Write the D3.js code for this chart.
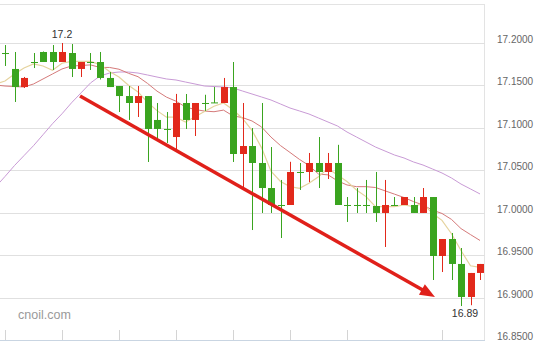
<!DOCTYPE html>
<html><head><meta charset="utf-8">
<script src="https://cdn.jsdelivr.net/npm/d3@7"></script>
<style>body{margin:0;background:#fff;overflow:hidden}</style>
</head><body><svg id="c" width="550" height="341"></svg>
<script>
// candle data (index 0..50)
const opens  = [17.1882,17.1694,17.1481,17.1776,17.1894,17.1894,17.1776,17.1882,17.1694,17.1776,
                17.1776,17.1588,17.1493,17.1375,17.1293,17.1375,17.1093,17.0987,17.0892,17.1293,
                17.1093,17.1293,17.1300,17.1293,17.1481,17.0692,17.0786,17.0586,17.0291,17.0091,
                17.0091,17.0480,17.0480,17.0586,17.0480,17.0586,17.0091,17.0091,17.0091,17.0079,
                16.9997,17.0091,17.0091,17.0091,16.9997,17.0185,16.9490,16.9690,16.9396,16.9007,16.9290];
const closes = [17.1882,17.1481,17.1588,17.1776,17.1776,17.1776,17.1894,17.1694,17.1776,17.1776,
                17.1588,17.1481,17.1375,17.1293,17.1375,17.0987,17.0987,17.0987,17.1293,17.1093,
                17.1293,17.1293,17.1300,17.1481,17.0692,17.0786,17.0586,17.0291,17.0091,17.0091,
                17.0480,17.0480,17.0586,17.0480,17.0586,17.0091,17.0091,17.0091,17.0091,16.9997,
                17.0091,17.0091,17.0185,16.9997,17.0185,16.9490,16.9690,16.9396,16.9007,16.9290,16.9396];
const highs  = [17.1976,17.1894,17.1600,17.1882,17.1900,17.1976,17.2000,17.1988,17.1776,17.1882,
                17.1894,17.1658,17.1493,17.1493,17.1493,17.1375,17.1293,17.1187,17.1400,17.1399,
                17.1293,17.1390,17.1481,17.1588,17.1776,17.1293,17.0998,17.1293,17.0774,17.0386,
                17.0600,17.0586,17.0704,17.0892,17.0704,17.0800,17.0185,17.0291,17.0386,17.0480,
                17.0386,17.0185,17.0185,17.0185,17.0291,17.0185,16.9690,16.9761,16.9584,16.9290,16.9396];
const lows   = [17.1729,17.1305,17.1470,17.1705,17.1776,17.1682,17.1776,17.1599,17.1599,17.1682,
                17.1570,17.1481,17.1187,17.1093,17.1128,17.0598,17.0857,17.0822,17.0730,17.0987,
                17.0904,17.1200,17.1293,17.1293,17.0598,17.0303,16.9796,16.9997,16.9997,16.9702,
                17.0091,17.0268,17.0360,17.0291,17.0397,17.0091,16.9891,16.9997,16.9997,16.9891,
                16.9596,17.0091,17.0091,16.9997,16.9997,16.9207,16.9301,16.9207,16.8900,16.8910,16.9207];
// moving averages, index -1..50
const ma5  = [17.1517,17.1552,17.1635,17.1705,17.1753,17.1729,17.1679,17.1762,17.1783,17.1783,17.1783,
              17.1745,17.1663,17.1599,17.1503,17.1423,17.1302,17.1203,17.1126,17.1126,17.1069,
              17.1130,17.1192,17.1255,17.1293,17.1213,17.1111,17.0970,17.0767,17.0489,17.0369,
              17.0308,17.0287,17.0346,17.0423,17.0522,17.0444,17.0367,17.0268,17.0190,17.0072,
              17.0072,17.0072,17.0091,17.0072,17.0110,16.9990,16.9910,16.9752,16.9554,16.9375,16.9356];
const ma10 = [17.1505,17.1493,17.1487,17.1482,17.1517,17.1576,17.1635,17.1694,17.1729,17.1735,17.1742,
              17.1712,17.1712,17.1691,17.1643,17.1603,17.1524,17.1433,17.1362,17.1314,17.1246,
              17.1216,17.1198,17.1190,17.1209,17.1141,17.1121,17.1081,17.1011,17.0891,17.0791,
              17.0710,17.0628,17.0556,17.0456,17.0446,17.0376,17.0327,17.0307,17.0307,17.0297,
              17.0258,17.0219,17.0179,17.0131,17.0091,17.0031,16.9991,16.9921,16.9813,16.9742,16.9673];
const ma30 = [17.0303,17.0427,17.0556,17.0673,17.0790,17.0919,17.1049,17.1166,17.1295,17.1412,17.1529,
              17.1611,17.1646,17.1658,17.1658,17.1646,17.1623,17.1599,17.1576,17.1564,17.1540,
              17.1517,17.1493,17.1487,17.1482,17.1470,17.1434,17.1399,17.1364,17.1328,17.1281,
              17.1234,17.1199,17.1163,17.1116,17.1069,17.1022,17.0951,17.0892,17.0833,17.0774,
              17.0727,17.0680,17.0645,17.0598,17.0562,17.0515,17.0468,17.0409,17.0338,17.0280,17.0221];
const yTicks = [17.2,17.15,17.1,17.05,17.0,16.95,16.9,16.85];
const xTickIdx = [0,6,12,18,24,30,36,46];
const maxLabel = "17.2", minLabel = "16.89";
const watermark = "cnoil.com";
const arrowFrom = [7.9, 17.1375], arrowTo = [45.26, 16.9007];

const svg = d3.select("#c");
const W = 485;
const x = d3.scaleLinear().domain([0, 50]).range([5, 480]);
const y = d3.scaleLinear().domain([16.85, 17.2]).range([340, 43]);

// top border
svg.append("line").attr("x1",0).attr("x2",W).attr("y1",4.5).attr("y2",4.5).attr("stroke","#e3e3e3");
// right border
svg.append("line").attr("x1",W-0.5).attr("x2",W-0.5).attr("y1",4).attr("y2",340).attr("stroke","#e3e3e3");

// grid + labels
const yAxis = d3.axisRight(y).tickValues(yTicks).tickSize(0).tickFormat(d3.format(".4f"));
const gy = svg.append("g").attr("transform", `translate(${W},0)`).call(yAxis);
gy.select(".domain").remove();
gy.selectAll("text").attr("x", 12).attr("dy", "-0.05em").attr("fill","#666")
  .style("font-family","'Liberation Sans', Arial, sans-serif").style("font-size","10px");
svg.append("g").selectAll("line").data(yTicks.slice(0,-1)).join("line")
  .attr("x1",0).attr("x2",W).attr("y1",d=>Math.round(y(d))+0.5).attr("y2",d=>Math.round(y(d))+0.5)
  .attr("stroke","#e0e0e0");

// bottom axis
const xAxis = d3.axisBottom(x).tickValues(xTickIdx).tickSize(-10).tickFormat("");
const gx = svg.append("g").attr("transform","translate(0,340)").call(xAxis);
gx.select(".domain").remove();
gx.selectAll(".tick line").attr("stroke","#d4d4d4");
svg.append("line").attr("x1",0).attr("x2",W).attr("y1",340.5).attr("y2",340.5).attr("stroke","#c9d5e2");

// watermark
svg.append("text").attr("x",18).attr("y",319).text(watermark)
  .attr("fill","#9a9a9a").style("font-family","'Liberation Sans', Arial, sans-serif").style("font-size","12.5px");

// clip
svg.append("clipPath").attr("id","clip").append("rect").attr("x",0).attr("y",4).attr("width",W).attr("height",336);
const plot = svg.append("g").attr("clip-path","url(#clip)");

// moving averages
const line = d3.line().x((d,i)=>x(i-1)).y(d=>y(d));
plot.append("path").attr("d", line(ma30)).attr("fill","none").attr("stroke","#c99bd6").attr("stroke-width",1);
plot.append("path").attr("d", line(ma10)).attr("fill","none").attr("stroke","#d57a7a").attr("stroke-width",1);
plot.append("path").attr("d", line(ma5)).attr("fill","none").attr("stroke","#e5d39e").attr("stroke-width",1.2);

// candles
const data = opens.map((o,i)=>({i, o, c:closes[i], h:highs[i], l:lows[i]}));
const col = d => d.c > d.o ? "#e2291b" : "#3aa41f";
const bw = 7;
const g = plot.append("g");
g.selectAll("line.w").data(data).join("line")
  .attr("x1",d=>Math.round(x(d.i))+0.5).attr("x2",d=>Math.round(x(d.i))+0.5)
  .attr("y1",d=>y(d.h)).attr("y2",d=>y(d.l)).attr("stroke",col).attr("stroke-width",1);
g.selectAll("rect").data(data).join("rect")
  .attr("x",d=>Math.round(x(d.i))+0.5-bw/2)
  .attr("y",d=>y(Math.max(d.o,d.c)))
  .attr("width",bw)
  .attr("height",d=>Math.max(1, Math.abs(y(d.o)-y(d.c))))
  .attr("fill",col);

// max / min labels
const iMax = d3.maxIndex(highs), iMin = d3.minIndex(lows);
svg.append("text").attr("x",x(iMax)).attr("y",y(highs[iMax])-5).attr("text-anchor","middle").text(maxLabel)
  .attr("fill","#333").style("font-family","'Liberation Sans', Arial, sans-serif").style("font-size","10.5px");
svg.append("text").attr("x",x(iMin)+4).attr("y",y(lows[iMin])+11).attr("text-anchor","middle").text(minLabel)
  .attr("fill","#333").style("font-family","'Liberation Sans', Arial, sans-serif").style("font-size","10.5px");

// arrow annotation
const ax1 = x(arrowFrom[0]), ay1 = y(arrowFrom[1]), ax2 = x(arrowTo[0]), ay2 = y(arrowTo[1]);
const ang = Math.atan2(ay2-ay1, ax2-ax1);
const hl = 15, hw = 6;
const bx = ax2 - hl*Math.cos(ang), by = ay2 - hl*Math.sin(ang);
svg.append("line").attr("x1",ax1).attr("y1",ay1).attr("x2",bx+3*Math.cos(ang)).attr("y2",by+3*Math.sin(ang))
  .attr("stroke","#e0201a").attr("stroke-width",3.5);
svg.append("path").attr("d", d3.line()([
  [ax2, ay2],
  [bx - hw*Math.sin(ang), by + hw*Math.cos(ang)],
  [bx + hw*Math.sin(ang), by - hw*Math.cos(ang)]
]) + "Z").attr("fill","#e0201a");
</script></body></html>
